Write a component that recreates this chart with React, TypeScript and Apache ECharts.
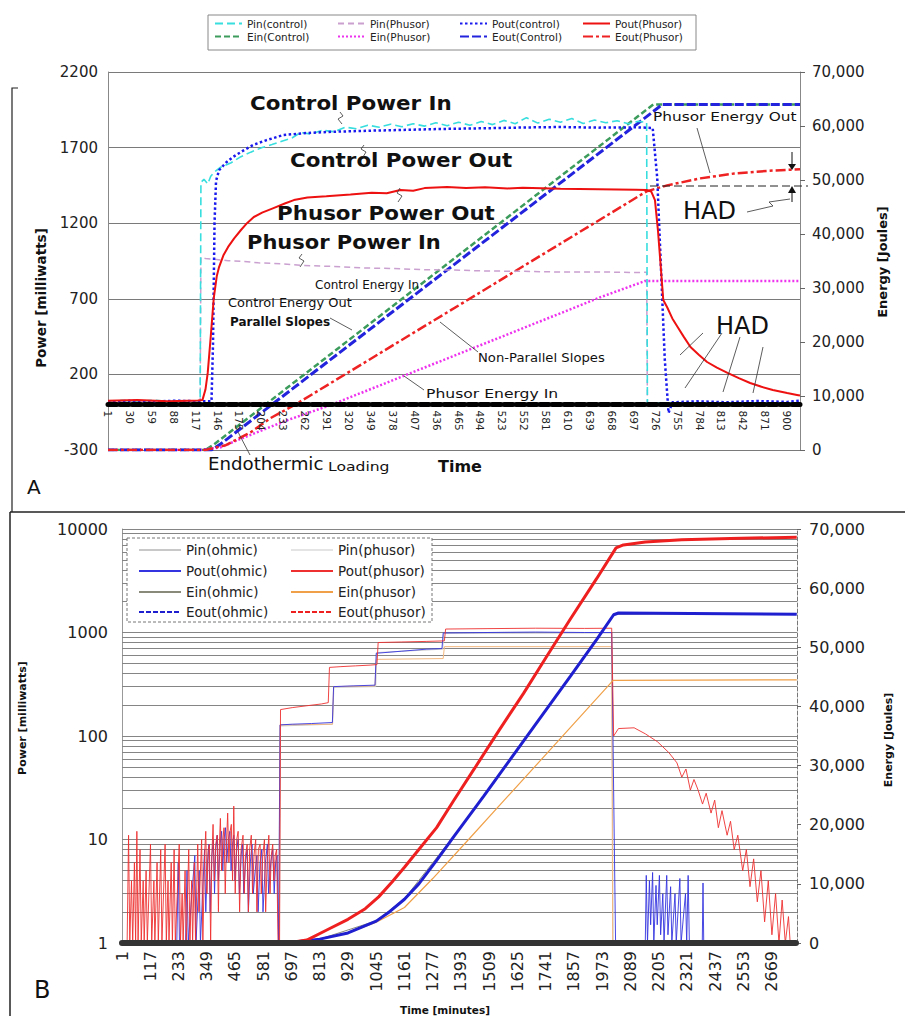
import React, { useEffect, useRef } from "react";
import * as echarts from "echarts";

const FONT = "'DejaVu Sans', 'Liberation Sans', Arial, sans-serif";

// ---------------- Panel A (time in minutes, categories 1..917) ----------------
const minutesA: string[] = Array.from({ length: 917 }, (_, i) => String(i + 1));

// power series [minute, milliwatts]
const pinControlA = [[1,22],[20,28],[40,18],[60,30],[80,22],[100,26],[118,24],[123,25],[124,1470],[128,1490],[133,1460],[137,1510],[142,1540],[150,1570],[164,1600],[177,1640],[190,1670],[205,1700],[218,1720],[230,1740],[245,1765],[256,1800],[270,1790],[285,1815],[300,1805],[315,1835],[330,1825],[345,1848],[360,1835],[375,1855],[390,1838],[405,1858],[420,1842],[435,1865],[450,1845],[465,1868],[480,1848],[495,1872],[510,1852],[525,1880],[540,1858],[555,1898],[570,1862],[585,1888],[600,1868],[615,1892],[630,1860],[645,1882],[660,1864],[675,1878],[690,1858],[703,1874],[714,1866],[715,10],[760,12],[800,8],[850,12],[900,10],[917,12]];
const poutControlA = [[1,18],[30,25],[60,20],[90,26],[120,22],[138,22],[140,400],[142,1200],[144,1480],[148,1550],[157,1600],[167,1640],[180,1680],[193,1717],[210,1748],[233,1783],[260,1795],[300,1805],[350,1812],[400,1818],[450,1824],[500,1828],[550,1833],[600,1836],[650,1832],[700,1834],[722,1830],[728,1500],[733,900],[738,300],[743,-55],[748,15],[780,22],[820,16],[860,24],[900,18],[917,26]];
const pinPhusorA = [[1,20],[123,22],[124,975],[130,966],[140,962],[160,952],[180,948],[200,938],[230,932],[260,920],[300,914],[340,904],[380,900],[420,892],[460,890],[500,884],[550,882],[600,877],[650,878],[700,874],[714,876],[715,6],[917,6]];
const poutPhusorA = [[1,25],[40,30],[80,22],[120,28],[126,30],[130,100],[133,210],[137,450],[141,705],[145,850],[148,910],[154,990],[160,1043],[168,1100],[177,1155],[185,1200],[194,1241],[205,1270],[220,1300],[235,1330],[247,1353],[265,1370],[290,1378],[322,1390],[350,1402],[370,1398],[388,1420],[405,1415],[420,1432],[450,1440],[475,1432],[500,1438],[530,1430],[550,1434],[600,1428],[650,1425],[700,1422],[714,1420],[720,1410],[725,1353],[729,1150],[732,957],[736,692],[741,646],[748,570],[755,514],[763,450],[772,381],[783,330],[794,282],[807,245],[821,210],[836,175],[851,143],[866,118],[881,97],[900,77],[913,64],[917,60]];

// energy series [minute, joules]
const einControlA = [[1,0],[130,0],[140,900],[723,64000],[917,64000]];
const eoutControlA = [[1,0],[138,0],[150,1100],[735,64000],[917,64000]];
const einPhusorA = [[1,0],[124,0],[150,500],[193,3000],[240,5600],[296,8333],[400,14150],[500,19740],[600,25330],[653,28300],[712,31300],[917,31300]];
const eoutPhusorA = [[1,0],[130,0],[157,900],[190,3300],[216,5900],[248,8333],[300,12750],[400,21240],[500,29730],[600,38220],[714,47900],[741,49000],[785,50300],[830,51200],[875,51700],[917,52000]];

// ---------------- Panel B (time in minutes, categories 1..2773) ----------------
const minutesB: string[] = Array.from({ length: 2773 }, (_, i) => String(i + 1));
const logGridValues = [2,3,4,5,6,7,8,9,10,20,30,40,50,60,70,80,90,100,200,300,400,500,600,700,800,900,1000,2000,3000,4000,5000,6000,7000,8000,9000,10000];

const poutPhusorEarlyB = [[1,1],[22,1],[28,11],[33,1],[40,4],[45,1],[52,6],[57,1],[62,12],[67,1],[75,8],[80,1],[88,4],[92,1],[100,5],[105,1],[118,9],[123,1],[132,4],[136,1],[145,6],[150,1],[160,8],[165,1],[178,9],[183,1],[190,4],[194,1],[203,6],[208,1],[215,8],[220,1],[236,9],[241,1],[248,3],[252,1],[260,5],[265,1],[275,8],[280,1],[287,4],[291,1],[298,6],[303,1],[312,9],[317,2],[328,10],[333,1],[340,7],[345,12],[350,3],[355,8],[360,9],[365,1],[370,7],[375,14],[380,4],[386,9],[392,11],[397,2],[401,9],[405,16],[410,5],[415,10],[420,13],[425,3],[430,9],[435,18],[440,6],[445,12],[450,14],[455,4],[460,21],[466,3],[472,10],[478,12],[484,2],[490,8],[498,11],[503,3],[508,7],[515,9],[520,2],[525,8],[532,11],[537,3],[543,7],[550,10],[555,2],[561,8],[568,9],[573,3],[579,7],[586,10],[591,2],[597,6],[604,11],[609,3],[614,7],[620,9],[625,4],[630,7],[636,8],[642,1]];
const poutPhusorStepsB = [[648,1],[652,180],[700,188],[760,196],[820,204],[848,210],[853,460],[900,468],[960,476],[1020,484],[1048,490],[1053,800],[1150,810],[1250,820],[1325,830],[1330,1080],[1500,1090],[1700,1100],[1900,1095],[2012,1100]];
const poutPhusorTailB = [[2020,100],[2040,118],[2104,120],[2150,105],[2200,88],[2247,69],[2280,55],[2300,40],[2317,48],[2335,30],[2350,38],[2367,30],[2385,22],[2400,28],[2420,18],[2435,24],[2450,13],[2465,19],[2486,11],[2500,15],[2515,8],[2530,11],[2550,5],[2565,8],[2580,3.5],[2595,6.5],[2610,2.5],[2625,5],[2640,1.6],[2655,4],[2670,1.2],[2685,3],[2699,1],[2712,2.6],[2725,1],[2738,1.8],[2745,1]];

const poutOhmicEarlyB = [[1,1],[226,1],[232,6],[237,1],[262,1],[268,5],[273,1],[300,7],[305,1],[318,5],[323,1],[340,8],[345,2],[352,6],[358,9],[363,2],[370,7],[376,10],[381,3],[386,8],[392,11],[397,4],[404,9],[410,12],[415,5],[420,10],[426,13],[431,6],[438,10],[444,12],[449,5],[455,9],[460,11],[465,4],[472,8],[478,10],[483,3],[490,7],[496,9],[501,3],[508,6],[515,8],[520,2],[528,6],[535,9],[540,3],[548,5],[555,7],[560,2],[568,6],[575,8],[580,2],[590,6],[598,9],[603,3],[612,6],[620,8],[626,3],[632,6],[638,7],[644,1]];
const poutOhmicStepsB = [[646,1],[650,128],[700,130],[780,132],[865,135],[870,300],[950,305],[1040,310],[1045,630],[1150,660],[1250,690],[1315,700],[1320,990],[1500,1000],[1700,1010],[1900,1000],[2012,1000]];
const poutOhmicTailB = [[2020,30],[2028,1],[2150,1],[2154,4.5],[2159,1],[2167,4],[2172,1.5],[2180,4.8],[2185,1],[2194,3.6],[2199,1.5],[2208,4.5],[2213,1.2],[2222,3],[2227,1],[2238,4.5],[2243,1.2],[2254,3.5],[2259,1],[2272,3],[2277,1],[2292,4.2],[2297,1],[2315,3],[2320,1],[2326,4.5],[2331,1],[2384,1],[2387,3.8],[2390,1],[2772,1]];

const pinPhusorB = [[1,1],[645,1],[650,128],[865,130],[870,300],[1040,305],[1045,550],[1320,560],[1325,730],[2012,730],[2016,1],[2772,1]];
const pinOhmicB = [[1,1],[647,1],[652,125],[866,130],[871,295],[1043,300],[1047,640],[1318,690],[1322,980],[2012,990],[2018,1],[2772,1]];

const einOhmicB = [[1,0],[645,0],[813,660],[1045,3750],[1161,7500],[1362,18000],[1485,24800],[1842,45200],[2020,55600],[2772,55700]];
const einPhusorB = [[1,0],[648,0],[700,120],[813,650],[929,1700],[1045,3500],[1161,6000],[1277,10900],[1400,16400],[1584,24750],[1800,34500],[2018,44400],[2772,44500]];
const eoutOhmicB = [[1,0],[645,0],[700,120],[813,650],[929,1700],[1045,3700],[1100,5300],[1161,7400],[1220,10000],[1290,13800],[1362,17900],[1485,24750],[1600,31300],[1700,37000],[1842,45100],[1950,51300],[2020,55500],[2040,55800],[2772,55600]];
const eoutPhusorB = [[1,0],[650,0],[700,150],[760,500],[842,2200],[929,4000],[1000,5800],[1055,7800],[1110,10300],[1161,12800],[1220,15800],[1293,19500],[1362,24000],[1450,29600],[1550,36000],[1650,42200],[1741,48200],[1841,54700],[1950,61600],[2030,66800],[2060,67300],[2150,67800],[2300,68200],[2500,68400],[2772,68600]];

const toIdx = (pts: number[][]) => pts.map(([m, v]) => [m - 1, v]);

type LegItem = { name: string; col: number; row: number; lineStyle?: any };
const legendItemsA: LegItem[] = [
  { name: "Pin(control)", col: 0, row: 0 },
  { name: "Pin(Phusor)", col: 1, row: 0 },
  { name: "Pout(control)", col: 2, row: 0 },
  { name: "Pout(Phusor)", col: 3, row: 0 },
  { name: "Ein(Control)", col: 0, row: 1 },
  { name: "Ein(Phusor)", col: 1, row: 1 },
  { name: "Eout(Control)", col: 2, row: 1 },
  { name: "Eout(Phusor)", col: 3, row: 1 },
];
const legendItemsB: LegItem[] = [
  { name: "Pin(ohmic)", col: 0, row: 0 },
  { name: "Pin(phusor)", col: 1, row: 0, lineStyle: { color: "#e4e4e4" } },
  { name: "Pout(ohmic)", col: 0, row: 1 },
  { name: "Pout(phusor)", col: 1, row: 1 },
  { name: "Ein(ohmic)", col: 0, row: 2 },
  { name: "Ein(phusor)", col: 1, row: 2 },
  { name: "Eout(ohmic)", col: 0, row: 3, lineStyle: { type: [5, 2] } },
  { name: "Eout(phusor)", col: 1, row: 3, lineStyle: { type: [5, 2] } },
];

function line(name: string, xi: number, yi: number, data: number[][], color: string, width: number, type: any, z = 2) {
  return {
    name, type: "line", xAxisIndex: xi, yAxisIndex: yi, data: toIdx(data),
    symbol: "none", showSymbol: false, z, silent: true,
    lineStyle: { color, width, type }, itemStyle: { color },
  };
}

function buildOption() {
  const legItem = (it: LegItem) => ({
    name: it.name,
    itemStyle: { opacity: 0 },
    ...(it.lineStyle ? { lineStyle: it.lineStyle } : {}),
  });
  const legA = legendItemsA.map((it) => ({
    left: [214, 337, 459, 582][it.col], top: [18, 31][it.row],
    padding: 0, itemWidth: 27, itemHeight: 10, selectedMode: false, z: 60,
    itemStyle: { opacity: 0 },
    textStyle: { fontSize: 10.5, fontFamily: FONT, color: "#222" },
    data: [legItem(it)],
  }));
  const legB = legendItemsB.map((it) => ({
    left: [138, 290][it.col], top: [543, 564, 585, 605][it.row],
    padding: 0, itemWidth: 42, itemHeight: 10, selectedMode: false, z: 60,
    itemStyle: { opacity: 0 },
    textStyle: { fontSize: 13.5, fontFamily: FONT, color: "#222" },
    data: [legItem(it)],
  }));

  const txt = (text: string, x: number, y: number, size: number, weight = "normal", sx = 1, extra: any = {}) => ({
    type: "text", x, y, scaleX: sx, z: 100, silent: true,
    style: { text, fontSize: size, fontWeight: weight, fontFamily: FONT, fill: "#111", align: "left", verticalAlign: "middle", ...extra },
  });
  const vtxt = (text: string, x: number, y: number, size: number, weight = "bold") => ({
    type: "text", x, y, rotation: Math.PI / 2, z: 100, silent: true,
    style: { text, fontSize: size, fontWeight: weight, fontFamily: FONT, fill: "#111", align: "center", verticalAlign: "middle" },
  });
  const pl = (points: number[][], w = 0.8, color = "#333", dash: any = null) => ({
    type: "polyline", z: 100, silent: true, shape: { points },
    style: { stroke: color, lineWidth: w, fill: null, lineDash: dash },
  });
  const tri = (points: number[][]) => ({ type: "polygon", z: 100, silent: true, shape: { points }, style: { fill: "#111" } });

  const graphic = [
    // frames
    pl([[18, 88], [12, 88], [12, 512]], 1.2, "#222"),
    pl([[10, 512], [905, 512]], 1.5, "#222"),
    pl([[10, 512], [10, 1016]], 1.5, "#222"),
    // legend boxes
    { type: "rect", z: 50, silent: true, shape: { x: 208, y: 15, width: 488, height: 35 }, style: { fill: "#fff", stroke: "#888", lineWidth: 1 } },
    { type: "rect", z: 50, silent: true, shape: { x: 127, y: 538, width: 305, height: 84 }, style: { fill: "#fff", stroke: "#777", lineWidth: 1, lineDash: [3, 2] } },
    // axis names
    vtxt("Power [milliwatts]", 41, 298, 13.5),
    vtxt("Energy [Joules]", 882, 262, 13),
    vtxt("Power [milliwatts]", 22, 718, 11),
    vtxt("Energy [Joules]", 888, 740, 11),
    // panel A annotations
    txt("Control Power In", 250, 103, 20, "bold", 1.07),
    txt("Control Power Out", 290, 160, 20, "bold", 1.07),
    txt("Phusor Power Out", 277, 213, 20, "bold", 1.07),
    txt("Phusor Power In", 247, 242, 20, "bold", 1.05),
    txt("Control Energy In", 315, 285, 12),
    txt("Control Energy Out", 228, 303, 12, "normal", 1.08),
    txt("Parallel Slopes", 230, 322, 12, "bold"),
    txt("Non-Parallel Slopes", 478, 358, 12, "normal", 1.1),
    txt("Phusor Energy In", 426, 393, 13, "normal", 1.2),
    txt("Phusor Energy Out", 653, 116, 13, "normal", 1.18),
    txt("HAD", 683, 211, 24),
    txt("HAD", 716, 326, 24),
    txt("Endothermic", 208, 464, 17, "normal", 1.07),
    txt("Loading", 328, 466, 13, "normal", 1.2),
    txt("Time", 438, 466, 16, "bold"),
    txt("A", 27, 487, 20),
    txt("B", 34, 990, 24),
    txt("Time [minutes]", 445, 1010, 10.5, "bold", 1, { align: "center" }),
    // leader lines
    pl([[340, 112], [343, 116], [338, 119], [342, 124]]),
    pl([[364, 145], [361, 149], [366, 152], [363, 157]]),
    pl([[400, 188], [397, 193], [402, 196], [398, 202]]),
    pl([[302, 254], [299, 258], [304, 261], [300, 267]]),
    pl([[478, 352], [440, 322]]),
    pl([[424, 390], [404, 376]]),
    pl([[330, 318], [352, 330]]),
    pl([[697, 128], [710, 173]]),
    pl([[747, 212], [773, 206], [769, 202], [790, 199]]),
    pl([[792, 152], [792, 166]], 1, "#111"),
    tri([[788, 164], [796, 164], [792, 170]]),
    pl([[792, 202], [792, 190]], 1, "#111"),
    tri([[788, 193], [796, 193], [792, 186]]),
    pl([[650, 186], [808, 186]], 1, "#222", [8, 4]),
    pl([[680, 355], [703, 333]]),
    pl([[685, 388], [722, 333]]),
    pl([[723, 392], [740, 337]]),
    pl([[753, 393], [763, 347]]),
    pl([[250, 455], [238, 432]]),
  ];

  const series: any[] = [
    // Panel A: energy (right axis)
    line("Ein(Control)", 0, 1, einControlA, "#3c9c5c", 2.5, [6, 3]),
    line("Ein(Phusor)", 0, 1, einPhusorA, "#ee33ee", 2.5, [2, 2]),
    line("Eout(Control)", 0, 1, eoutControlA, "#2323dd", 3, [9, 3]),
    line("Eout(Phusor)", 0, 1, eoutPhusorA, "#ee2222", 2.5, [10, 3, 3, 3]),
    // Panel A: power (left axis)
    line("Pin(Phusor)", 0, 0, pinPhusorA, "#c9a0cf", 1.5, [6, 4]),
    line("Pin(control)", 0, 0, pinControlA, "#38dede", 1.6, [8, 4]),
    line("Pout(control)", 0, 0, poutControlA, "#1a1aee", 2.5, [2.5, 2.5]),
    line("Pout(Phusor)", 0, 0, poutPhusorA, "#ee1111", 2, "solid", 3),
    // Panel B gridlines (log)
    {
      name: "grid", type: "line", xAxisIndex: 1, yAxisIndex: 2, data: [[0, 1]], symbol: "none", silent: true,
      lineStyle: { opacity: 0 },
      markLine: {
        silent: true, symbol: "none", z: 1, animation: false, label: { show: false },
        lineStyle: { color: "#858585", width: 1, type: "solid" },
        data: logGridValues.map((v) => ({ yAxis: v })),
      },
    },
    // Panel B: power (log axis)
    line("Pin(ohmic)", 1, 2, pinOhmicB, "#c8c8c8", 1, "solid"),
    line("Pin(phusor)", 1, 2, pinPhusorB, "#f2b77e", 1, "solid"),
    line("Pout(ohmic)", 1, 2, poutOhmicEarlyB.concat(poutOhmicStepsB, poutOhmicTailB), "#3434e0", 0.9, "solid"),
    line("Pout(phusor)", 1, 2, poutPhusorEarlyB.concat(poutPhusorStepsB, poutPhusorTailB), "#ee3030", 0.9, "solid"),
    // Panel B: energy (right axis)
    line("Ein(ohmic)", 1, 3, einOhmicB, "#8a8a7a", 1, "solid"),
    line("Ein(phusor)", 1, 3, einPhusorB, "#f0a048", 1.2, "solid"),
    line("Eout(ohmic)", 1, 3, eoutOhmicB, "#1f1fd0", 3, "solid"),
    line("Eout(phusor)", 1, 3, eoutPhusorB, "#ee2020", 3, "solid"),
  ];

  return {
    animation: false,
    backgroundColor: "#fff",
    textStyle: { fontFamily: FONT },
    grid: [
      { left: 108, top: 72, width: 692, height: 378 },
      { left: 122, top: 529, width: 675, height: 414 },
    ],
    legend: [...legA, ...legB],
    xAxis: [
      {
        gridIndex: 0, type: "category", data: minutesA, boundaryGap: false, z: 10,
        position: "bottom", offset: -45.4,
        axisLine: { onZero: false, lineStyle: { color: "#000", width: 5, type: [9, 3] } },
        axisTick: { show: false },
        axisLabel: { interval: 28, rotate: -90, fontSize: 10.5, color: "#222", margin: 6, fontFamily: FONT },
        splitLine: { show: false },
      },
      {
        gridIndex: 1, type: "category", data: minutesB, boundaryGap: false, z: 10,
        axisLine: { onZero: false, lineStyle: { color: "#333", width: 6, type: [1.5, 1] } },
        axisTick: { show: false },
        axisLabel: { interval: 115, rotate: 90, fontSize: 16, color: "#222", margin: 8, fontFamily: FONT },
        splitLine: { show: false },
      },
    ],
    yAxis: [
      {
        gridIndex: 0, type: "value", min: -300, max: 2200, interval: 500,
        axisLine: { show: true, lineStyle: { color: "#888" } }, axisTick: { show: false },
        axisLabel: { fontSize: 15, color: "#222", margin: 10, fontFamily: FONT, formatter: (v: number) => String(v) },
        splitLine: { show: true, lineStyle: { color: "#7a7a7a", width: 1 } },
      },
      {
        gridIndex: 0, type: "value", position: "right", min: 0, max: 70000, interval: 10000,
        axisLine: { show: true, lineStyle: { color: "#888" } },
        axisTick: { show: true, length: 5, lineStyle: { color: "#666" } },
        axisLabel: { fontSize: 15, color: "#222", margin: 12, fontFamily: FONT, formatter: (v: number) => v.toLocaleString("en-US") },
        splitLine: { show: false },
      },
      {
        gridIndex: 1, type: "log", logBase: 10, min: 1, max: 10000,
        axisLine: { show: true, lineStyle: { color: "#999" } }, axisTick: { show: false },
        axisLabel: { fontSize: 16, color: "#222", margin: 14, fontFamily: FONT, formatter: (v: number) => String(Math.round(v)) },
        splitLine: { show: false },
      },
      {
        gridIndex: 1, type: "value", position: "right", min: 0, max: 70000, interval: 10000,
        axisLine: { show: true, lineStyle: { color: "#777", type: [4, 2] } },
        axisTick: { show: true, length: 4, lineStyle: { color: "#666" } },
        axisLabel: { fontSize: 16, color: "#222", margin: 12, fontFamily: FONT, formatter: (v: number) => v.toLocaleString("en-US") },
        splitLine: { show: false },
      },
    ],
    graphic: { elements: graphic },
    series,
  };
}

export default function App() {
  const ref = useRef<HTMLDivElement>(null);
  useEffect(() => {
    document.body.style.margin = "0";
    const chart = echarts.init(ref.current!, null, { renderer: "svg" });
    chart.setOption(buildOption() as any);
    return () => chart.dispose();
  }, []);
  return <div ref={ref} style={{ width: 905, height: 1016 }} />;
}
